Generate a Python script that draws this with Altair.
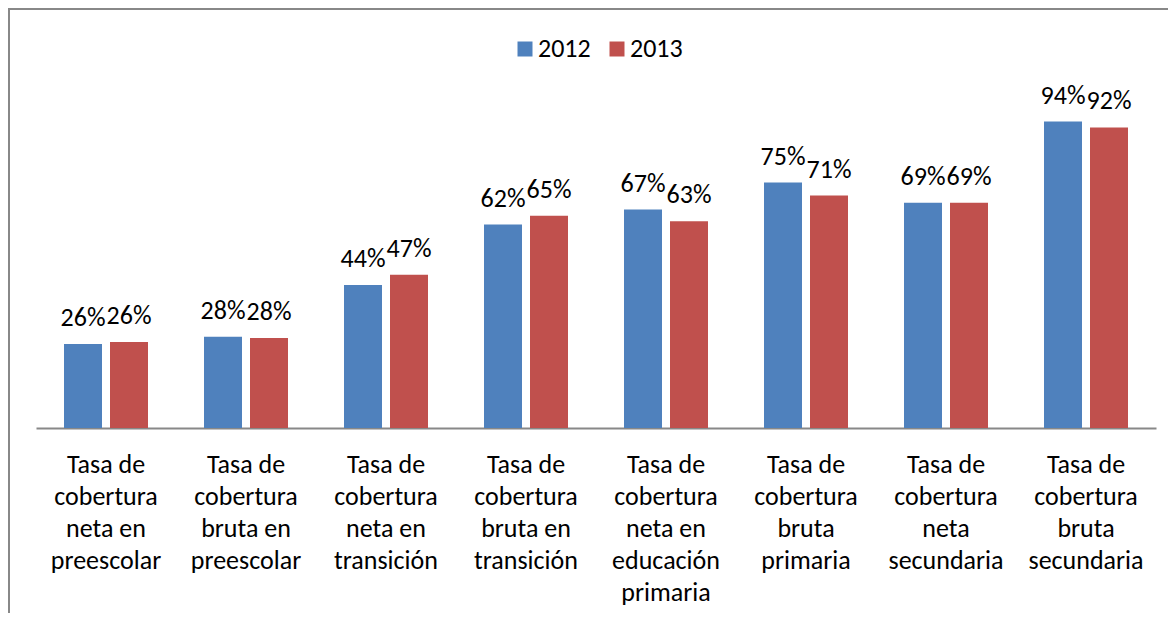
import altair as alt
import pandas as pd

categorias = [
    "Tasa de|cobertura|neta en|preescolar",
    "Tasa de|cobertura|bruta en|preescolar",
    "Tasa de|cobertura|neta en|transición",
    "Tasa de|cobertura|bruta en|transición",
    "Tasa de|cobertura|neta en|educación|primaria",
    "Tasa de|cobertura|bruta|primaria",
    "Tasa de|cobertura|neta|secundaria",
    "Tasa de|cobertura|bruta|secundaria",
]
anios = ["2012", "2013"]
valores_2012 = [0.258, 0.280, 0.439, 0.624, 0.670, 0.753, 0.691, 0.940]
valores_2013 = [0.264, 0.276, 0.470, 0.651, 0.634, 0.713, 0.691, 0.922]
colores = ["#4F81BD", "#C0504D"]

rows = []
for i, c in enumerate(categorias):
    rows.append({"categoria": c, "anio": anios[0], "valor": valores_2012[i]})
    rows.append({"categoria": c, "anio": anios[1], "valor": valores_2013[i]})
df = pd.DataFrame(rows)

FONT = "Carlito, Lato"
FS = 26

x = alt.X(
    "categoria:N",
    sort=categorias,
    scale=alt.Scale(paddingInner=0.4, paddingOuter=0.2),
    axis=alt.Axis(
        title=None,
        labelExpr="split(datum.label, '|')",
        labelAngle=0,
        labelFont=FONT,
        labelFontSize=FS,
        labelColor="black",
        labelLineHeight=32,
        labelPadding=23,
        labelBaseline="top",
        ticks=False,
        domainColor="#888888",
        domainWidth=2,
        labelLimit=0,
    ),
)
xo = alt.XOffset("anio:N", scale=alt.Scale(domain=anios, paddingInner=0.174, paddingOuter=0))
y = alt.Y("valor:Q", scale=alt.Scale(domain=[0, 1], nice=False), axis=None)
color = alt.Color(
    "anio:N",
    scale=alt.Scale(domain=anios, range=colores),
    legend=alt.Legend(
        title=None,
        orient="none",
        legendX=476,
        legendY=-66,
        direction="horizontal",
        symbolType="square",
        symbolSize=225,
        symbolStrokeWidth=0,
        labelFont=FONT,
        labelFontSize=FS,
        labelColor="black",
        labelOffset=0,
        columnPadding=13,
    ),
)

bars = alt.Chart(df).mark_bar().encode(x=x, xOffset=xo, y=y, color=color)
labels = alt.Chart(df).mark_text(
    dy=-18, baseline="alphabetic", font=FONT, fontSize=FS, color="black"
).encode(x=x, xOffset=xo, y=y, text=alt.Text("valor:Q", format=".0%"))

marco = pd.DataFrame({"k": [0]})
borde_izq = alt.Chart(marco).mark_rule(color="#888888", strokeWidth=2).encode(
    x=alt.value(-27), y=alt.value(-95), y2=alt.value(520)
)
borde_sup = alt.Chart(marco).mark_rule(color="#888888", strokeWidth=2).encode(
    x=alt.value(-28), x2=alt.value(1140), y=alt.value(-93)
)

chart = alt.layer(bars, labels, borde_izq, borde_sup).properties(
    width=1120,
    height=326,
    autosize=alt.AutoSizeParams(type="none"),
    padding={"left": 28, "top": 94, "right": 12, "bottom": 185},
).configure_view(stroke=None)

chart.save("out.html", embed_options={"renderer": "svg", "actions": False})
